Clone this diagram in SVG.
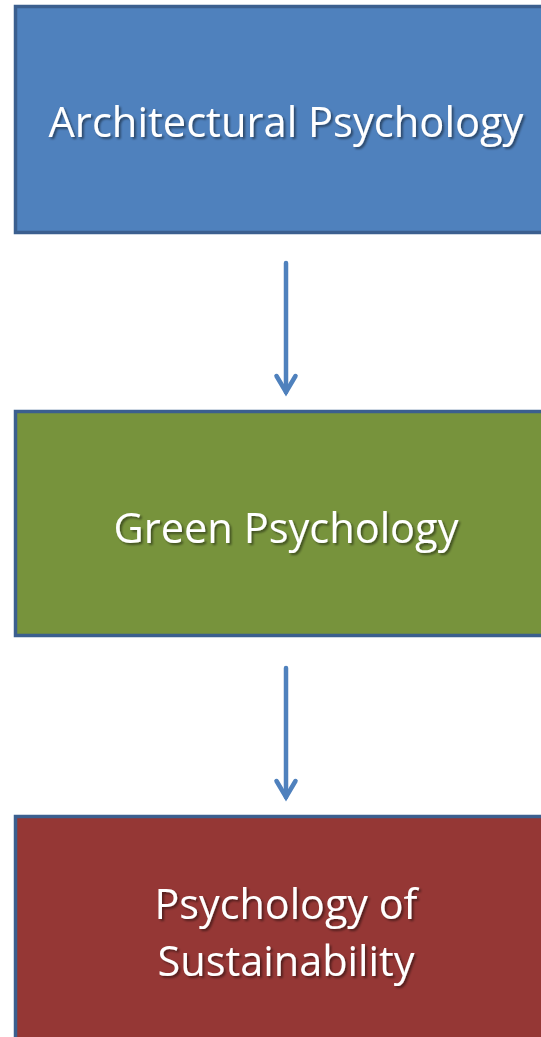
<svg xmlns="http://www.w3.org/2000/svg" width="541" height="1037" viewBox="0 0 541 1037">
<defs>
<style>
.box{stroke:#3b5f8f;stroke-width:3.5}
.lbl{font-family:"Open Sans","Liberation Sans",sans-serif;font-size:42px;fill:#ffffff;text-anchor:middle;filter:url(#sh)}
.conn{stroke:#4f81bd;stroke-width:4.5;fill:none;stroke-linecap:round;stroke-linejoin:miter}
</style>
<filter id="sh" x="-10%" y="-30%" width="120%" height="160%">
<feDropShadow dx="2" dy="2" stdDeviation="1.2" flood-color="#000000" flood-opacity="0.45"/>
</filter>
</defs>
<g id="node-architectural">
<rect class="box" x="15.5" y="6.5" width="600" height="226" fill="#4f81bd"/>
<text class="lbl" x="286" y="137" textLength="475" lengthAdjust="spacingAndGlyphs">Architectural Psychology</text>
</g>
<g id="node-green">
<rect class="box" x="15.5" y="411.5" width="600" height="224" fill="#77933c"/>
<text class="lbl" x="286" y="543" textLength="345" lengthAdjust="spacingAndGlyphs">Green Psychology</text>
</g>
<g id="node-sustainability">
<rect class="box" x="15.5" y="816.5" width="600" height="240" fill="#953735"/>
<text class="lbl" x="286" y="919" textLength="263" lengthAdjust="spacingAndGlyphs">Psychology of</text>
<text class="lbl" x="286" y="976" textLength="257" lengthAdjust="spacingAndGlyphs">Sustainability</text>
</g>
<g id="connectors">
<line class="conn" x1="286" y1="263" x2="286" y2="392"/>
<polyline class="conn" points="276.5,376 286,392 295.5,376"/>
<line class="conn" x1="286" y1="668" x2="286" y2="797"/>
<polyline class="conn" points="276.5,781 286,797 295.5,781"/>
</g>
</svg>
